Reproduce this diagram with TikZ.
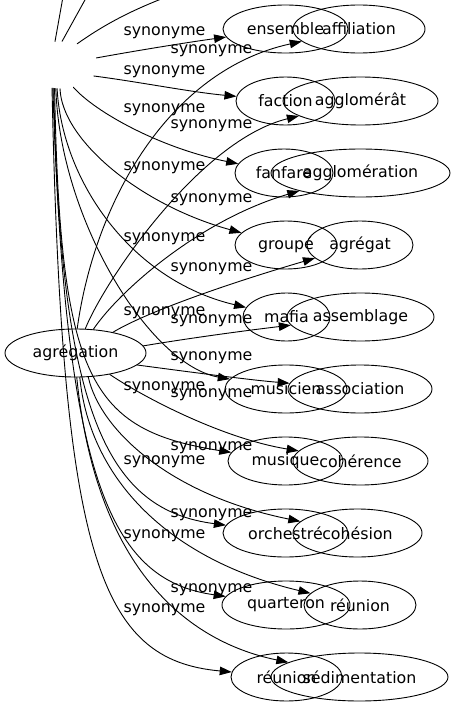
\documentclass[tikz,border=0pt]{standalone}
\usepackage{fontspec}
\setmainfont{DejaVu Sans}
\usetikzlibrary{arrows.meta,shapes.geometric}

\begin{document}
\begin{tikzpicture}[line cap=round,line join=round,>={Triangle[length=12pt,width=8.5pt]},x=1pt,y=-1pt,
		font=\fontsize{15.8pt}{19pt}\selectfont,
		word/.style={draw,ellipse,inner sep=0pt,minimum height=48pt,line width=0.9pt},
		lbl/.style={inner sep=0pt},
		edge/.style={->,line width=0.9pt}]
		\useasboundingbox (0,0) rectangle (455,707);
		\clip (0,0) rectangle (455,707);
		% source words
		\node[word,minimum width=141pt] (agregation) at (75.5,353) {agrégation};
		\node[ellipse,inner sep=0pt,minimum width=76pt,minimum height=47pt] (hub) at (60,65) {};
		% left column
		\node[word,minimum width=125pt] (ensemble) at (285.5,29) {ensemble};
		\node[word,minimum width=99pt] (faction) at (285.5,101) {faction};
		\node[word,minimum width=98pt] (fanfare) at (284,173) {fanfare};
		\node[word,minimum width=102pt] (groupe) at (286,245) {groupé};
		\node[word,minimum width=87pt] (mafia) at (286.5,317) {mafia};
		\node[word,minimum width=122pt] (musicien) at (286,389) {musicien};
		\node[word,minimum width=115pt] (musique) at (285.5,461) {musique};
		\node[word,minimum width=125pt] (orchestre) at (285.5,533) {orchestré};
		\node[word,minimum width=128pt] (quarteron) at (286,605) {quarteron};
		\node[word,minimum width=111pt] (reunionA) at (286.5,677) {réunion};
		% right column
		\node[word,minimum width=132pt] (affiliation) at (359,29) {affiliation};
		\node[word,minimum width=155pt] (agglomerat) at (360.5,101) {agglomérât};
		\node[word,minimum width=179pt] (agglomeration) at (360.5,173) {agglomération};
		\node[word,minimum width=106pt] (agregat) at (360,245) {agrégat};
		\node[word,minimum width=147pt] (assemblage) at (360.5,317) {assemblage};
		\node[word,minimum width=144pt] (association) at (360,389) {association};
		\node[word,minimum width=135pt] (coherence) at (360.5,461) {cohérence};
		\node[word,minimum width=129pt] (cohesion) at (357.5,533) {cohésion};
		\node[word,minimum width=112pt] (reunionB) at (360,605) {réunion};
		\node[word,minimum width=177pt] (sedimentation) at (359.5,677) {sédimentation};
		% lines leaving the top
		\coordinate (up1) at (66,-20);
		\coordinate (up2) at (96,-20);
		\coordinate (up3) at (180,-8);
		\draw[line width=0.9pt] (hub.102) -- (up1);
		\draw[line width=0.9pt] (hub.85) -- (up2);
		\draw[line width=0.9pt] (hub.51) .. controls (105,24) and (135,8) .. (up3);
		% edges to the left column
		\draw[edge] (hub.11) .. controls (140,50) and (190,42) .. (ensemble);
		\draw[edge] (hub.-18) .. controls (140,82) and (190,92) .. (faction);
		\draw[edge] (hub.-59) .. controls (95,112) and (160,148) .. (fanfare);
		\draw[edge] (hub.-90) .. controls (62,140) and (140,205) .. (groupe);
		\draw[edge] (hub.-97) .. controls (62,180) and (130,280) .. (mafia);
		\draw[edge] (hub.-100) .. controls (60,220) and (150,365) .. (musicien);
		\draw[edge] (hub.-103) .. controls (60,380) and (90,430) .. (musique);
		\draw[edge] (hub.-105) .. controls (60,420) and (110,510) .. (orchestre);
		\draw[edge] (hub.-107) .. controls (65,480) and (110,580) .. (quarteron);
		\draw[edge] (hub.-109) .. controls (62,560) and (100,660) .. (reunionA);
		% edges to the right column
		\draw[edge] (agregation.86) .. controls (95,200) and (170,70) .. (affiliation);
		\draw[edge] (agregation.68) .. controls (105,280) and (200,140) .. (agglomerat);
		\draw[edge] (agregation.53) .. controls (120,290) and (200,220) .. (agglomeration);
		\draw[edge] (agregation.29) .. controls (150,310) and (240,280) .. (agregat);
		\draw[edge] (agregation.6) .. controls (190,338) and (250,330) .. (assemblage);
		\draw[edge] (agregation.-11) .. controls (190,372) and (250,380) .. (association);
		\draw[edge] (agregation.-32) .. controls (140,395) and (220,438) .. (coherence);
		\draw[edge] (agregation.-62) .. controls (100,430) and (170,495) .. (cohesion);
		\draw[edge] (agregation.-80) .. controls (90,480) and (170,560) .. (reunionB);
		\draw[edge] (agregation.-87) .. controls (95,560) and (180,640) .. (sedimentation);
		% labels
		\node[lbl] (synA1) at (164.5,33) {synonyme};
		\node[lbl] (synA2) at (164.5,72) {synonyme};
		\node[lbl] (synA3) at (164.5,110) {synonyme};
		\node[lbl] (synA4) at (164.5,168) {synonyme};
		\node[lbl] (synA5) at (164.5,239) {synonyme};
		\node[lbl] (synA6) at (164.5,313) {synonyme};
		\node[lbl] (synA7) at (164.5,388) {synonyme};
		\node[lbl] (synA8) at (164.5,462) {synonyme};
		\node[lbl] (synA9) at (164.5,536) {synonyme};
		\node[lbl] (synA10) at (164.5,610) {synonyme};
		\node[lbl] (synB1) at (211.5,51) {synonyme};
		\node[lbl] (synB2) at (211.5,126) {synonyme};
		\node[lbl] (synB3) at (211.5,200) {synonyme};
		\node[lbl] (synB4) at (211.5,269) {synonyme};
		\node[lbl] (synB5) at (211.5,321) {synonyme};
		\node[lbl] (synB6) at (211.5,358) {synonyme};
		\node[lbl] (synB7) at (211.5,395) {synonyme};
		\node[lbl] (synB8) at (211.5,448) {synonyme};
		\node[lbl] (synB9) at (211.5,515) {synonyme};
		\node[lbl] (synB10) at (211.5,590) {synonyme};
\end{tikzpicture}
\end{document}
